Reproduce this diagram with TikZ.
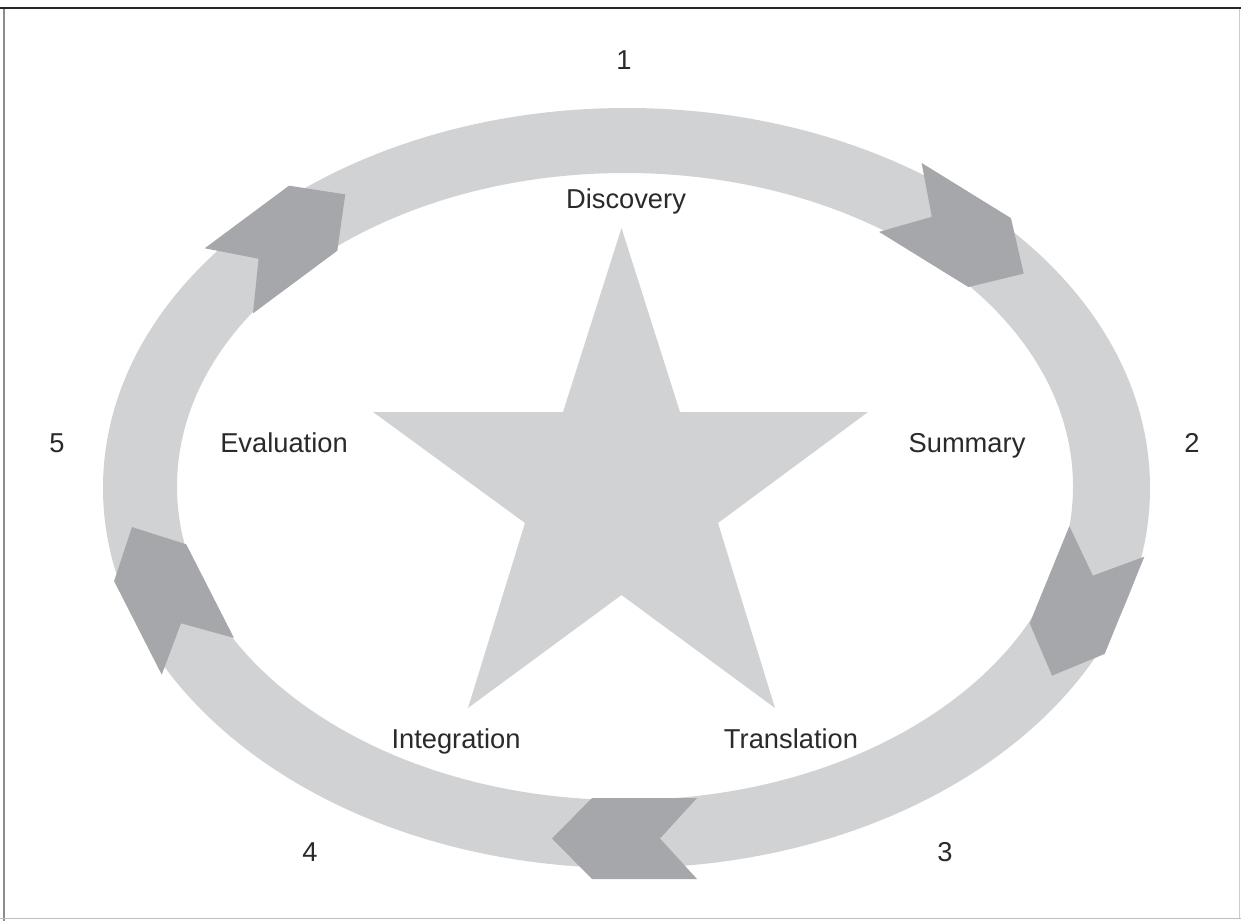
\documentclass[tikz,border=0pt]{standalone}
\usepackage{fontspec}
\setmainfont{Liberation Sans}
\begin{document}
\begin{tikzpicture}[x=1pt,y=-1pt]
\definecolor{ringgray}{HTML}{D1D2D4}
\definecolor{arrowgray}{HTML}{A6A7AA}
\definecolor{textgray}{HTML}{2A2A2A}
\tikzset{
  stagelabel/.style={font=\fontsize{27.3}{32}\selectfont, text=textgray,
    inner sep=0pt, anchor=base},
  chevron/.pic={
    \fill[arrowgray] (-52.5,-40.5) -- (52.5,-40.5) -- (92.5,0) -- (52.5,40.5)
      -- (-52.5,40.5) -- (-15.5,0) -- cycle;
  }
}
\useasboundingbox (0,0) rectangle (1241,921);
\fill[white] (0,0) rectangle (1241,921);

% frame
\draw[line width=1.2pt, black!45] (4,8) -- (4,921);
\draw[line width=1pt, black!25] (0,918) -- (1241,918);
\draw[line width=1pt, black!20] (1239,8) -- (1239,918);
\draw[line width=2.6pt, black!85] (0,8) -- (1241,8);

% cycle ring
\fill[ringgray, even odd rule]
  (626.5,488) ellipse [x radius=523.5, y radius=380]
  (625,486.5) ellipse [x radius=448, y radius=313.5];

% direction chevrons along the ring
\pic[rotate=-31.7] at (945,225) {chevron};
\pic[rotate=-112.2] at (1087,590) {chevron};
\pic[rotate=180] at (644.5,838.5) {chevron};
\pic[rotate=117] at (174,609.5) {chevron};
\pic[rotate=36.6] at (271,249.5) {chevron};

% central star
\fill[ringgray] (621.5,228) -- (680,412) -- (868,412) -- (718,523) -- (775,708)
  -- (621.5,595) -- (468,708) -- (525,523) -- (373,412) -- (563,412) -- cycle;

% stage names
\node[stagelabel] (discovery) at (626,208) {Discovery};
\node[stagelabel] (summary) at (967,452) {Summary};
\node[stagelabel] (translation) at (791,748) {Translation};
\node[stagelabel] (integration) at (456,748) {Integration};
\node[stagelabel] (evaluation) at (284,452) {Evaluation};

% stage numbers
\node[stagelabel] (n1) at (624,69) {1};
\node[stagelabel] (n2) at (1192,452) {2};
\node[stagelabel] (n3) at (945,861) {3};
\node[stagelabel] (n4) at (310,861) {4};
\node[stagelabel] (n5) at (57,452) {5};
\end{tikzpicture}
\end{document}
